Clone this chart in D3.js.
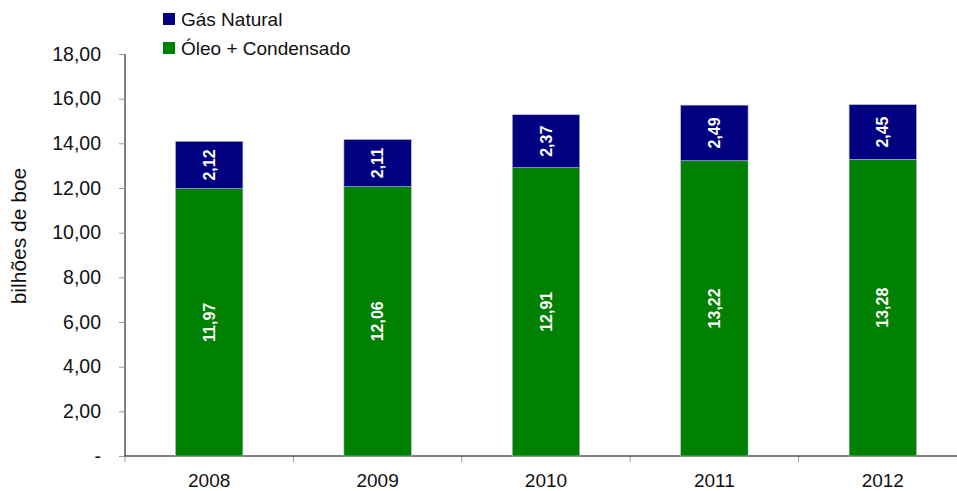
<!DOCTYPE html>
<html>
<head>
<meta charset="utf-8">
<script src="https://cdn.jsdelivr.net/npm/d3@7/dist/d3.min.js"></script>
<style>
  html, body { margin: 0; padding: 0; background: #fff; }
  svg { display: block; font-family: Arial, "Liberation Sans", sans-serif; }
</style>
</head>
<body>
<svg id="chart" width="957" height="491"></svg>
<script>
// Reservas provadas (bilhões de boe)
const years = ["2008", "2009", "2010", "2011", "2012"];
const oleo = [11.97, 12.06, 12.91, 13.22, 13.28];
const gas = [2.12, 2.11, 2.37, 2.49, 2.45];
const yTicks = [0, 2, 4, 6, 8, 10, 12, 14, 16, 18];
const seriesNames = ["Gás Natural", "Óleo + Condensado"];
const seriesColors = ["#000080", "#008000"];

const svg = d3.select("#chart");

const x = d3.scaleBand().domain(years).range([125, 967]).paddingInner(0.6).paddingOuter(0.3);
const y = d3.scaleLinear().domain([0, 18]).range([456, 54]);

const fmt = v => v === 0 ? "-" : d3.format(".2f")(v).replace(".", ",");

// y axis
const yAxis = svg.append("g").attr("transform", "translate(125,0)")
  .call(d3.axisLeft(y).tickValues(yTicks).tickFormat(fmt).tickSize(6).tickPadding(18));
yAxis.select(".domain").attr("stroke", "#000").attr("d", "M0,54V456");
yAxis.selectAll(".tick line").attr("stroke", "#999");
yAxis.selectAll(".tick text").attr("font-size", 19.5).attr("fill", "#111")
  .attr("font-family", "Arial, 'Liberation Sans', sans-serif");

// x axis with ticks at category boundaries
const bandStep = x.step();
const boundaries = d3.range(years.length + 1).map(i => 125 + i * bandStep);
svg.append("g").selectAll("line").data(boundaries).join("line")
  .attr("x1", d => d).attr("x2", d => d)
  .attr("y1", 456).attr("y2", 462)
  .attr("stroke", "#999");
svg.append("line").attr("x1", 125).attr("x2", 967).attr("y1", 456).attr("y2", 456)
  .attr("stroke", "#000");
svg.append("g").selectAll("text").data(years).join("text")
  .attr("x", d => x(d) + x.bandwidth() / 2)
  .attr("y", 487)
  .attr("text-anchor", "middle")
  .attr("font-size", 19)
  .attr("fill", "#111")
  .text(d => d);

// stacked bars
const rows = years.map((yr, i) => ({ year: yr, oleo: oleo[i], gas: gas[i] }));
const stack = d3.stack().keys(["oleo", "gas"])(rows);
const colorByKey = { oleo: seriesColors[1], gas: seriesColors[0] };

const layers = svg.append("g").selectAll("g").data(stack).join("g")
  .attr("fill", d => colorByKey[d.key]);

layers.selectAll("rect").data(d => d).join("rect")
  .attr("x", d => x(d.data.year))
  .attr("width", x.bandwidth())
  .attr("y", d => y(d[1]))
  .attr("height", d => y(d[0]) - y(d[1]))
  .attr("stroke", "#b8b8c8")
  .attr("stroke-width", 0.6);

// value labels, rotated inside each segment
layers.each(function (layer) {
  d3.select(this).selectAll("text").data(layer).join("text")
    .attr("transform", d => {
      const cx = x(d.data.year) + x.bandwidth() / 2;
      const cy = (y(d[0]) + y(d[1])) / 2;
      return `translate(${cx},${cy}) rotate(-90)`;
    })
    .attr("text-anchor", "middle")
    .attr("dy", "0.35em")
    .attr("font-size", 16)
    .attr("font-weight", "bold")
    .attr("fill", "#fff")
    .text(d => fmt(d.data[layer.key]));
});

// y axis title
svg.append("text")
  .attr("transform", "translate(26,236) rotate(-90)")
  .attr("text-anchor", "middle")
  .attr("font-size", 21)
  .attr("fill", "#111")
  .text("bilhões de boe");

// legend
const legend = svg.append("g").selectAll("g").data(seriesNames).join("g")
  .attr("transform", (d, i) => `translate(163,${13 + i * 29})`);
legend.append("rect").attr("width", 12).attr("height", 12)
  .attr("fill", (d, i) => seriesColors[i]);
legend.append("text").attr("x", 18).attr("y", 13)
  .attr("font-size", 19).attr("fill", "#111")
  .text(d => d);
</script>
</body>
</html>
